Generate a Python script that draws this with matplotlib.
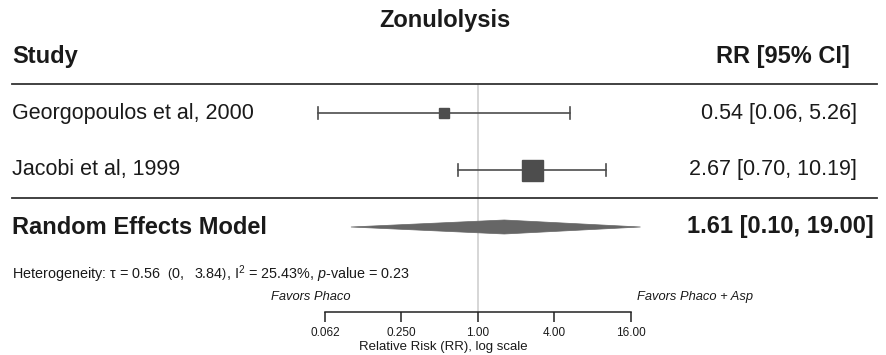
import matplotlib
matplotlib.use("Agg")
import matplotlib.pyplot as plt
import numpy as np
from matplotlib.lines import Line2D
from matplotlib.patches import Polygon

plt.rcParams['font.family'] = ['Liberation Sans', 'DejaVu Sans']
plt.rcParams['mathtext.fontset'] = 'custom'
plt.rcParams['mathtext.rm'] = 'Liberation Sans'
plt.rcParams['mathtext.it'] = 'Liberation Sans:italic'
plt.rcParams['mathtext.bf'] = 'Liberation Sans:bold'

# ---- data ----
title = "Zonulolysis"
studies = ["Georgopoulos et al, 2000", "Jacobi et al, 1999"]
rr = [0.54, 2.67]
ci_low = [0.055, 0.70]
ci_high = [5.26, 10.19]
weights = [0.35, 0.65]
study_labels = ["0.54 [0.06, 5.26]", "2.67 [0.70, 10.19]"]
model_name = "Random Effects Model"
model_rr = 1.61
model_low = 0.10
model_high = 19.00
model_label = "1.61 [0.10, 19.00]"
het_text = r"Heterogeneity: τ = 0.56  $\left(0,\ \ 3.84\right)$, I$^2$ = 25.43%, $p$-value = 0.23"
tick_vals = [0.0625, 0.25, 1.0, 4.0, 16.0]
tick_labels = ["0.062", "0.250", "1.00", "4.00", "16.00"]
xlabel = "Relative Risk (RR), log scale"
favors_left = "Favors Phaco"
favors_right = "Favors Phaco + Asp"

W, H = 887, 355
fig = plt.figure(figsize=(W / 100, H / 100), dpi=100)
axis_y = 312  # pixel row of the axis line
ax = fig.add_axes([0, (H - axis_y) / H, 1, axis_y / H])
ax.set_xscale('log', base=2)
px_per = 38.25
x0 = 478
ax.set_xlim(2 ** ((0 - x0) / px_per), 2 ** ((W - x0) / px_per))
ax.set_ylim(axis_y, 0)

txt = '#1a1a1a'
mark = '#4d4d4d'
T = ax.get_yaxis_transform()

def fx(px):
    return px / W

# title and header
ax.text(fx(445), 21, title, transform=T, ha='center', va='center',
        fontsize=17, fontweight='bold', color=txt)
ax.text(fx(12), 57, "Study", transform=T, ha='left', va='center',
        fontsize=17, fontweight='bold', color=txt)
ax.text(fx(850), 57, "RR [95% CI]", transform=T, ha='right', va='center',
        fontsize=17, fontweight='bold', color=txt)

# separators
for yy in (84, 198):
    ax.add_line(Line2D([fx(12), fx(877)], [yy, yy], transform=T, color='#333333', lw=1.3))

# reference line
ax.plot([1, 1], [85, axis_y], color='#d0d0d0', lw=1.2, zorder=0)

row_y = [113, 170]
for i, name in enumerate(studies):
    y = row_y[i]
    ax.text(fx(12), y, name, transform=T, ha='left', va='center', fontsize=15.5, color=txt)
    ax.text(fx(857), y, study_labels[i], transform=T, ha='right', va='center', fontsize=15.5, color=txt)
    ax.plot([ci_low[i], ci_high[i]], [y, y], color=mark, lw=1.2, zorder=2)
    for e in (ci_low[i], ci_high[i]):
        ax.plot([e, e], [y - 6, y + 6], color=mark, lw=1.2, zorder=2)
    s = 10 + (weights[i] - 0.35) / 0.30 * 11
    ax.plot([rr[i]], [y], marker='s', markersize=s * 0.72, color=mark,
            markeredgecolor=mark, zorder=3, linestyle='none')

# summary diamond
ym = 227
ax.text(fx(12), ym, model_name, transform=T, ha='left', va='center',
        fontsize=17, fontweight='bold', color=txt)
ax.text(fx(874), ym, model_label, transform=T, ha='right', va='center',
        fontsize=17, fontweight='bold', color=txt)
diamond = Polygon([[model_low, ym], [model_rr, ym - 7], [model_high, ym], [model_rr, ym + 7]],
                  closed=True, facecolor='#666666', edgecolor='#666666', lw=0.5, zorder=3)
ax.add_patch(diamond)

# heterogeneity
ax.text(fx(12), 274, het_text, transform=T, ha='left', va='center', fontsize=10.4, color=txt)

# favors labels
ax.text(fx(311), 297, favors_left, transform=T, ha='center', va='center',
        fontsize=9.3, style='italic', color=txt, clip_on=False)
ax.text(fx(753), 297, favors_right, transform=T, ha='right', va='center',
        fontsize=9.3, style='italic', color=txt, clip_on=False)

# axis
for s in ('top', 'left', 'right'):
    ax.spines[s].set_visible(False)
ax.spines['bottom'].set_bounds(tick_vals[0], tick_vals[-1])
ax.spines['bottom'].set_color('#222222')
ax.spines['bottom'].set_linewidth(1.1)
ax.set_xticks(tick_vals)
ax.set_xticklabels(tick_labels)
ax.xaxis.set_minor_locator(matplotlib.ticker.NullLocator())
ax.tick_params(axis='x', direction='out', length=7, width=1.1, color='#222222',
               labelsize=8.5, labelcolor=txt, pad=4)
ax.set_yticks([])
ax.set_xlabel(xlabel, fontsize=9.5, color=txt, labelpad=1.5)
ax.patch.set_visible(False)

fig.savefig("out.png", dpi=100)
